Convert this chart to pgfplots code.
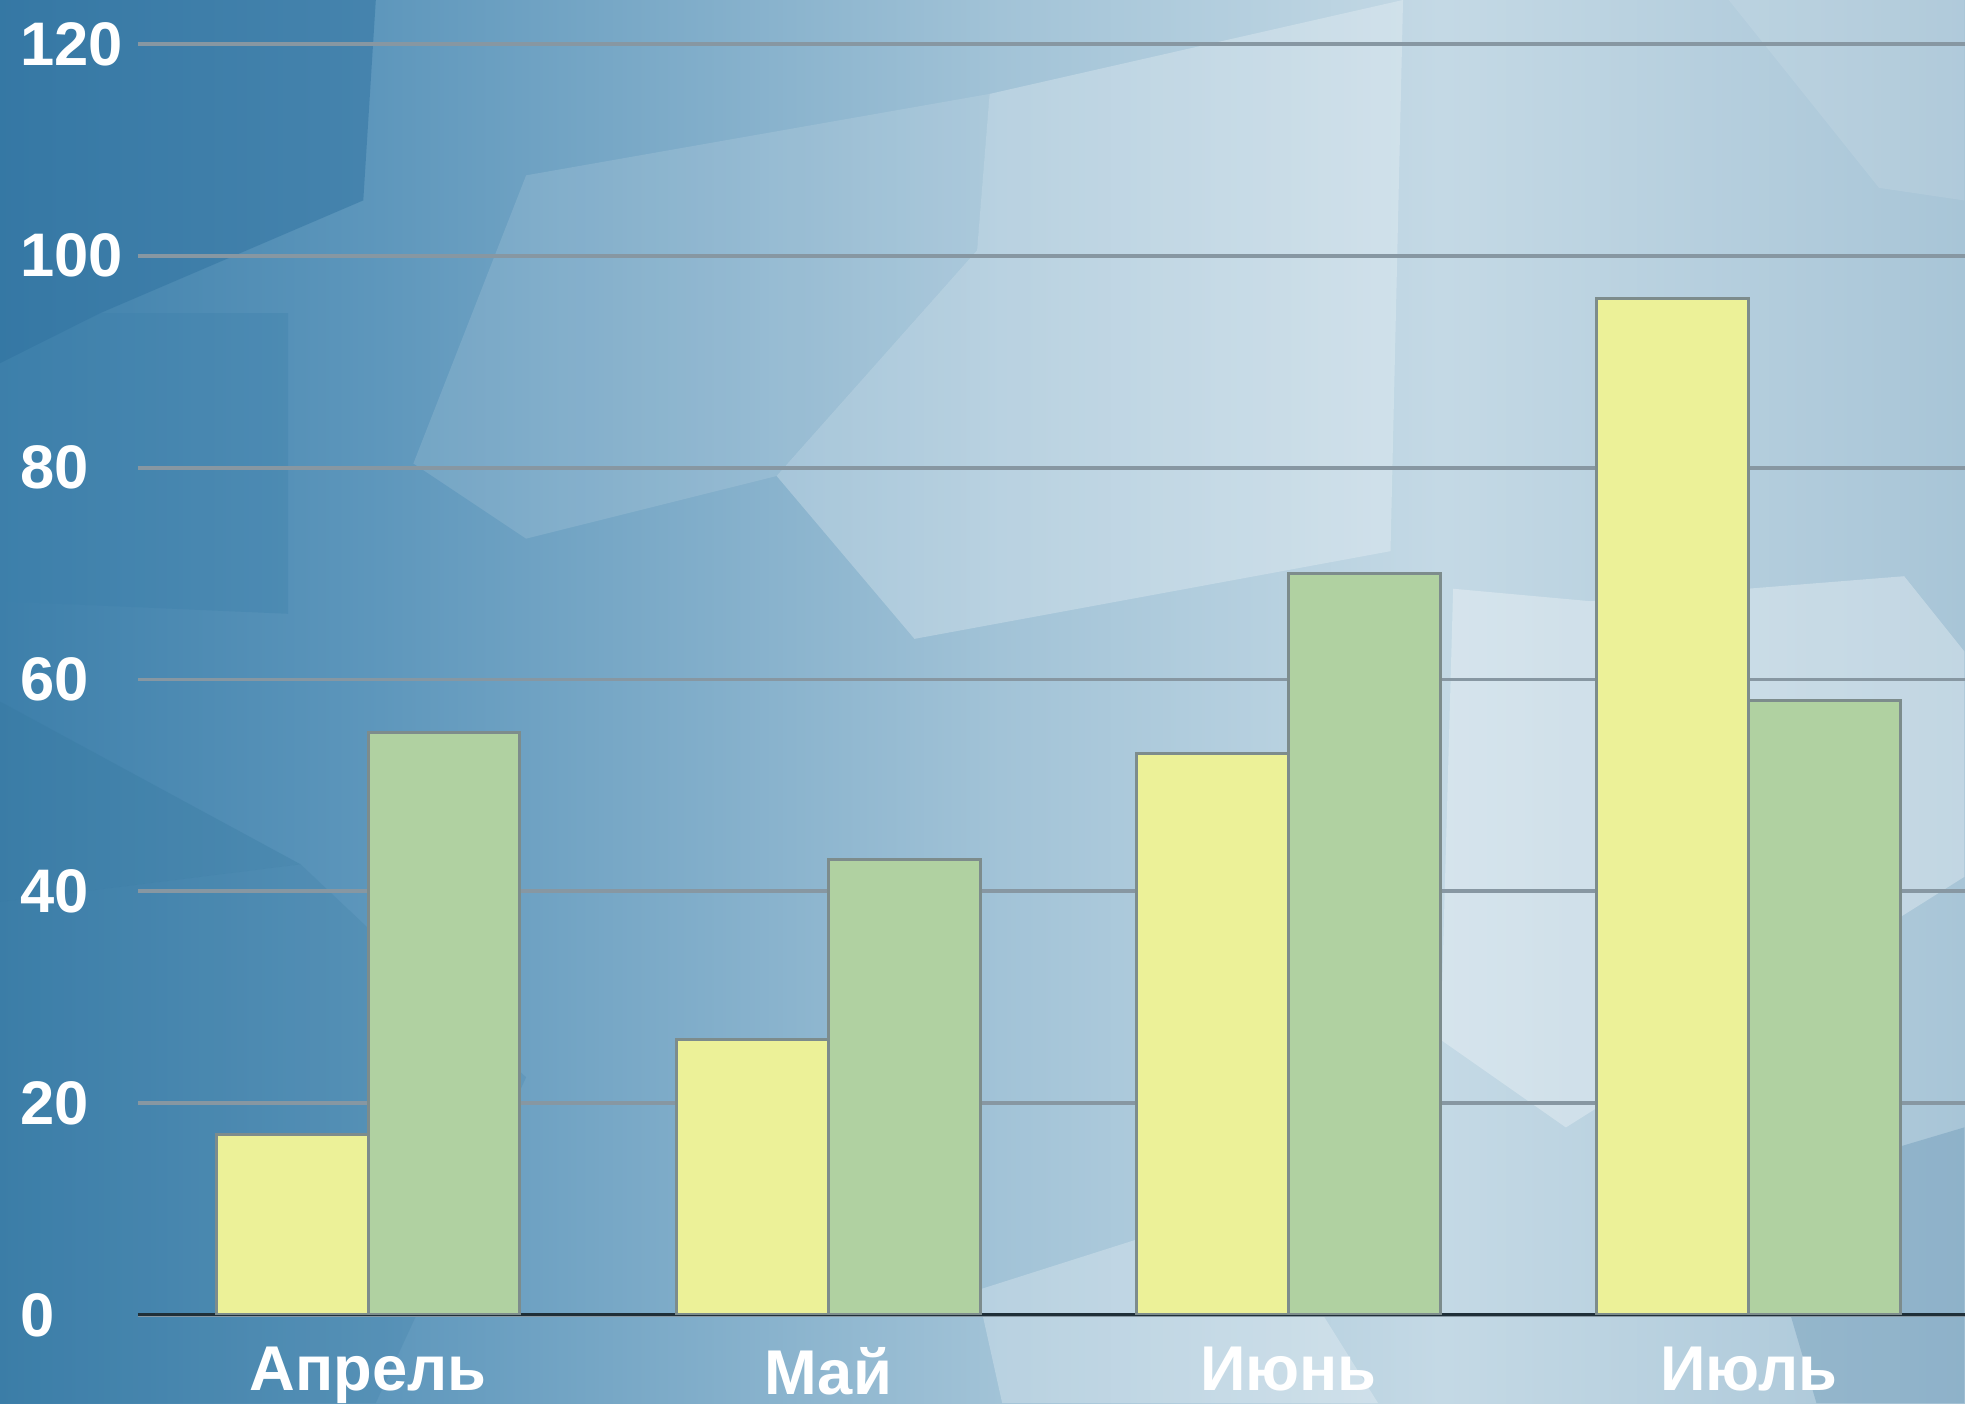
\documentclass[border=0pt]{standalone}
\usepackage{fontspec}
\setmainfont{Liberation Sans}
\usepackage{pgfplots}
\pgfplotsset{compat=1.18}

\definecolor{barY}{HTML}{ECF198}
\definecolor{barG}{HTML}{B0D1A1}
\definecolor{edgec}{HTML}{7D8C8C}
\definecolor{gridc}{HTML}{8797A2}
\definecolor{axisc}{HTML}{1F2F38}
\definecolor{bgA}{HTML}{3D7FAA}
\definecolor{bgB}{HTML}{5E97BC}
\definecolor{bgC}{HTML}{A2C3D7}
\definecolor{bgD}{HTML}{C4D9E5}
\definecolor{bgE}{HTML}{A8C5D7}
\definecolor{fa}{HTML}{2F72A0}
\definecolor{fb}{HTML}{3D80AB}
\definecolor{fc}{HTML}{35789F}
\definecolor{fd}{HTML}{5F8FB0}

\begin{document}
\begin{tikzpicture}
\useasboundingbox (0,0) rectangle (19.65cm,14.04cm);
\clip (0,0) rectangle (19.65cm,14.04cm);
% background gradient in four bands
\fill[left color=bgA, right color=bgB] (0,0) rectangle (3.81cm,14.04cm);
\fill[left color=bgB, right color=bgC] (3.8cm,0) rectangle (10.01cm,14.04cm);
\fill[left color=bgC, right color=bgD] (10cm,0) rectangle (14.41cm,14.04cm);
\fill[left color=bgD, right color=bgE] (14.4cm,0) rectangle (19.65cm,14.04cm);
% low-poly facets, in pixels of the 1568x1120 view
\begin{scope}[x=0.012532cm, y=-0.012532cm, shift={(0,14.04cm)}]
  \fill[fa, fill opacity=.5] (0,0) -- (300,0) -- (290,160) -- (80,250) -- (0,290) -- cycle;
  \fill[fb, fill opacity=.35] (0,290) -- (80,250) -- (230,250) -- (230,490) -- (0,480) -- cycle;
  \fill[fc, fill opacity=.3] (0,560) -- (240,690) -- (0,720) -- cycle;
  \fill[fc, fill opacity=.2] (0,720) -- (240,690) -- (420,860) -- (300,1120) -- (0,1120) -- cycle;
  \fill[white, fill opacity=.25] (790,75) -- (1120,0) -- (1110,440) -- (730,510) -- (620,380) -- (780,200) -- cycle;
  \fill[white, fill opacity=.3] (1160,470) -- (1270,480) -- (1520,460) -- (1568,520) -- (1568,700) -- (1250,900) -- (1150,830) -- cycle;
  \fill[white, fill opacity=.12] (420,140) -- (790,75) -- (780,200) -- (620,380) -- (420,430) -- (330,370) -- cycle;
  \fill[fd, fill opacity=.35] (1400,950) -- (1568,900) -- (1568,1120) -- (1450,1120) -- cycle;
  \fill[white, fill opacity=.25] (780,1030) -- (1000,960) -- (1100,1120) -- (800,1120) -- cycle;
  \fill[white, fill opacity=.1] (1380,0) -- (1568,0) -- (1568,160) -- (1500,150) -- cycle;
\end{scope}
\begin{axis}[
  at={(1.38cm,0.89cm)}, anchor=south west,
  scale only axis, width=18.27cm, height=12.71cm,
  xmin=-0.5, xmax=3.47, ymin=0, ymax=120,
  ybar=0pt, bar width=0.33,
  xtick={0,1,2,3}, xticklabels={Апрель,Май,Июнь,Июль},
  ytick={0,20,...,120},
  ymajorgrids, grid style={color=gridc, line width=1.1pt},
  axis x line*=bottom, axis y line*=left,
  y axis line style={draw=none},
  x axis line style={color=axisc, line width=0.85pt},
  major tick length=0pt,
  tick label style={text=white},
  yticklabel style={anchor=west, xshift=-1.3cm, font=\bfseries\fontsize{17.5}{17.5}\selectfont},
  xticklabel style={yshift=-2mm, font=\bfseries\fontsize{18}{18}\selectfont},
  /pgf/number format/assume math mode=true,
]
  \addplot[fill=barY, draw=edgec, line width=0.85pt] coordinates {(0,17) (1,26) (2,53) (3,96)};
  \addplot[fill=barG, draw=edgec, line width=0.85pt] coordinates {(0,55) (1,43) (2,70) (3,58)};
\end{axis}
\end{tikzpicture}
\end{document}
